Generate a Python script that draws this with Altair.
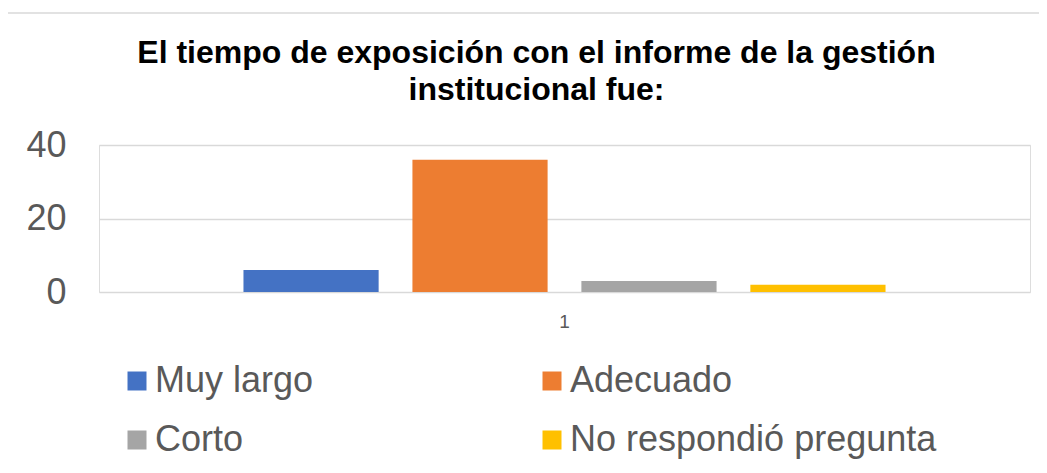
import altair as alt
import pandas as pd

# --- data ---
series = ["Muy largo", "Adecuado", "Corto", "No respondió pregunta"]
values = [6, 36, 3, 2]
group_labels = ["1", "1", "1", "1"]
colors = ["#4472C4", "#ED7D31", "#A5A5A5", "#FFC000"]
y_ticks = [0, 20, 40]
title_lines = ["El tiempo de exposición con el informe de la gestión",
               "institucional fue:"]

df = pd.DataFrame({"grupo": group_labels, "serie": series, "valor": values})

FONT = "Liberation Sans"
GREY_TXT = "#595959"

frame = alt.Chart(alt.Data(values=[{"k": 0}])).mark_rect(
    fill="white", fillOpacity=0, stroke="#d9d9d9", strokeWidth=1.5
).encode(
    x=alt.value(-92), x2=alt.value(970),
    y=alt.value(-132), y2=alt.value(340)
)

bars = alt.Chart(df).mark_bar().encode(
    x=alt.X("grupo:N",
            scale=alt.Scale(paddingOuter=0.225, paddingInner=0),
            axis=alt.Axis(title=None, labelAngle=0, ticks=False, domain=False,
                          labelFontSize=19, labelColor=GREY_TXT, labelPadding=20,
                          labelFont=FONT)),
    xOffset=alt.XOffset("serie:N",
                        scale=alt.Scale(domain=series, paddingInner=0.2, paddingOuter=0)),
    y=alt.Y("valor:Q",
            scale=alt.Scale(domain=[0, 40], nice=False),
            axis=alt.Axis(title=None, values=y_ticks, ticks=False, domain=False,
                          labelFontSize=36, labelColor=GREY_TXT, labelPadding=33,
                          labelFont=FONT, gridColor="#d9d9d9", gridWidth=1.5)),
    color=alt.Color("serie:N",
                    scale=alt.Scale(domain=series, range=colors),
                    legend=alt.Legend(title=None, orient="none", legendX=20, legendY=218,
                                      direction="horizontal", columns=2,
                                      columnPadding=220, rowPadding=23,
                                      symbolType="square", symbolSize=361,
                                      symbolStrokeWidth=0, symbolOffset=0,
                                      labelFontSize=36, labelColor=GREY_TXT,
                                      labelFont=FONT, labelOffset=0,
                                      labelLimit=600)),
)

chart = alt.layer(frame, bars).properties(
    width=931, height=147,
    title=alt.TitleParams(text=title_lines, fontSize=32, fontWeight="bold",
                          color="black", font=FONT, anchor="middle", dx=-28,
                          dy=133, lineHeight=37, offset=38),
    autosize=alt.AutoSizeParams(type="none"),
    padding={"left": 91, "top": 137, "right": 9, "bottom": 168},
).configure_view(stroke=None).configure(font=FONT, background="white")

chart.save("out.html", embed_options={"renderer": "svg", "actions": False})
